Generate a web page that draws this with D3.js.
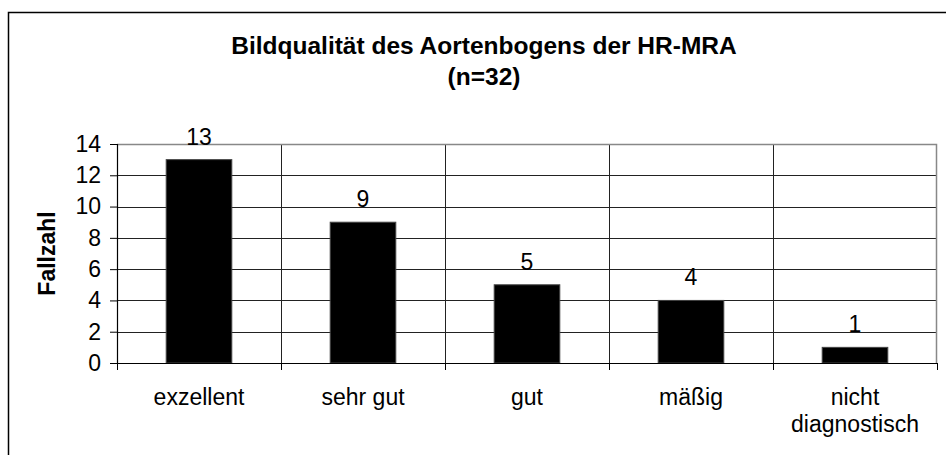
<!DOCTYPE html>
<html>
<head>
<meta charset="utf-8">
<script src="https://cdn.jsdelivr.net/npm/d3@7"></script>
<style>
  body { margin: 0; background: #fff; }
  text { font-family: "Liberation Sans", Arial, sans-serif; }
</style>
</head>
<body>
<div id="chart"></div>
<script>
// Data
var categories = ["exzellent", "sehr gut", "gut", "mäßig", "nicht diagnostisch"];
var counts = [13, 9, 5, 4, 1];
var yTicks = [0, 2, 4, 6, 8, 10, 12, 14];
var titleLines = ["Bildqualität des Aortenbogens der HR-MRA", "(n=32)"];
var yLabel = "Fallzahl";

// Dimensions and margins
var W = 946, H = 455;
var margin = {top: 144, right: 9, bottom: 92, left: 117},
    width = W - margin.left - margin.right,
    height = H - margin.top - margin.bottom;
var fontSize = "23px";

var svg = d3.select("#chart")
    .append("svg")
    .attr("width", W)
    .attr("height", H);

// Outer chart border (runs off the right/bottom edge)
svg.append("rect")
    .attr("x", 8.5).attr("y", 12.5)
    .attr("width", 945).attr("height", 450)
    .attr("fill", "none")
    .attr("stroke", "#000")
    .attr("stroke-width", 1.5);

// Title
svg.append("g").selectAll("text")
    .data(titleLines)
    .enter().append("text")
    .attr("x", 484)
    .attr("y", function (d, i) { return 54 + i * 31; })
    .attr("text-anchor", "middle")
    .style("font-weight", "bold")
    .style("font-size", "24.5px")
    .text(function (d) { return d; });

var g = svg.append("g")
    .attr("transform", "translate(" + margin.left + "," + margin.top + ")");

// Scales
var x = d3.scaleBand()
    .domain(categories)
    .range([0, width])
    .paddingInner(0)
    .paddingOuter(0);

var y = d3.scaleLinear()
    .domain([0, 14])
    .range([height, 0]);

var barW = x.bandwidth() * 0.4;

// Horizontal gridlines
g.append("g").selectAll("line")
    .data(yTicks.filter(function (d) { return d > 0 && d < 14; }))
    .enter().append("line")
    .attr("x1", 0).attr("x2", width)
    .attr("y1", function (d) { return Math.round(y(d)) + 0.5; })
    .attr("y2", function (d) { return Math.round(y(d)) + 0.5; })
    .attr("stroke", "#222");

// Vertical gridlines at category boundaries
g.append("g").selectAll("line")
    .data(categories.slice(1))
    .enter().append("line")
    .attr("x1", function (d) { return Math.round(x(d)) + 0.5; })
    .attr("x2", function (d) { return Math.round(x(d)) + 0.5; })
    .attr("y1", 0).attr("y2", height)
    .attr("stroke", "#222");

// Plot area top and right border (gray)
g.append("path")
    .attr("d", "M0," + 0.5 + "H" + (width - 0.5) + "V" + height)
    .attr("fill", "none")
    .attr("stroke", "#888")
    .attr("stroke-width", 1.5);

// Bars
g.append("g").selectAll("rect")
    .data(counts)
    .enter().append("rect")
    .attr("x", function (d, i) { return x(categories[i]) + (x.bandwidth() - barW) / 2; })
    .attr("y", function (d) { return y(d); })
    .attr("width", barW)
    .attr("height", function (d) { return height - y(d); })
    .attr("fill", "#000")
    .attr("stroke", "#444")
    .attr("stroke-width", 1);

// Value labels
g.append("g").selectAll("text")
    .data(counts)
    .enter().append("text")
    .attr("x", function (d, i) { return x(categories[i]) + x.bandwidth() / 2; })
    .attr("y", function (d) { return y(d) - 15; })
    .attr("text-anchor", "middle")
    .style("font-size", fontSize)
    .text(function (d) { return d; });

// Y axis
var yAxis = g.append("g")
    .call(d3.axisLeft(y).tickValues(yTicks).tickSize(7).tickPadding(9));
yAxis.select(".domain").attr("stroke", "#000").attr("stroke-width", 1.2);
yAxis.selectAll("text").style("font-size", fontSize).attr("fill", "#000");

// X axis: ticks at category boundaries
var bottom = g.append("g").attr("transform", "translate(0," + height + ")");
bottom.append("line")
    .attr("x1", 0).attr("x2", width)
    .attr("y1", 0.5).attr("y2", 0.5)
    .attr("stroke", "#000").attr("stroke-width", 1.2);
bottom.selectAll("line.tick")
    .data(d3.range(categories.length + 1))
    .enter().append("line")
    .attr("class", "tick")
    .attr("x1", function (i) { return Math.round(i * x.step()) + 0.5; })
    .attr("x2", function (i) { return Math.round(i * x.step()) + 0.5; })
    .attr("y1", 0).attr("y2", 7)
    .attr("stroke", "#000");

// Category labels, wrapped like the original
var labels = bottom.selectAll("text.cat")
    .data(categories)
    .enter().append("text")
    .attr("class", "cat")
    .attr("text-anchor", "middle")
    .style("font-size", fontSize)
    .attr("transform", function (d) { return "translate(" + (x(d) + x.bandwidth() / 2) + ",42)"; });
labels.each(function (d) {
    var words = d === "nicht diagnostisch" ? ["nicht", "diagnostisch"] : [d];
    d3.select(this).selectAll("tspan")
        .data(words)
        .enter().append("tspan")
        .attr("x", 0)
        .attr("dy", function (w, i) { return i === 0 ? 0 : 27; })
        .text(function (w) { return w; });
});

// Y axis title
svg.append("text")
    .attr("transform", "translate(55," + (margin.top + height / 2) + ") rotate(-90)")
    .attr("text-anchor", "middle")
    .style("font-weight", "bold")
    .style("font-size", fontSize)
    .text(yLabel);
</script>
</body>
</html>
